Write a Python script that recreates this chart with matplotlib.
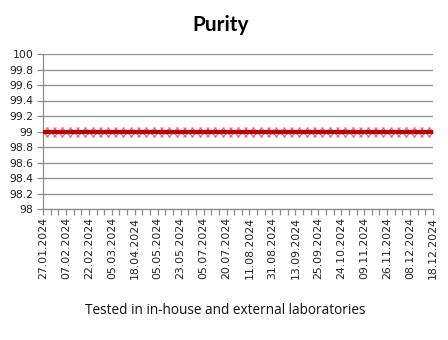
import matplotlib
matplotlib.use("Agg")
import matplotlib.pyplot as plt
import numpy as np

# Purity results per test (52 tests), one value per category
purity = [99.0] * 52
date_labels = ["27.01.2024", "07.02.2024", "22.02.2024", "05.03.2024", "18.04.2024",
               "05.05.2024", "23.05.2024", "05.07.2024", "20.07.2024", "11.08.2024",
               "31.08.2024", "13.09.2024", "25.09.2024", "24.10.2024", "09.11.2024",
               "26.11.2024", "08.12.2024", "18.12.2024"]
label_step = 3
y_ticks = [98, 98.2, 98.4, 98.6, 98.8, 99, 99.2, 99.4, 99.6, 99.8, 100]

fig = plt.figure(figsize=(4.48, 3.40), dpi=100)
ax = fig.add_axes([43 / 448, 1 - 209 / 340, 390 / 448, 155 / 340])

x = np.arange(len(purity))
ax.plot(x, purity, linestyle="none", marker="x", markersize=7,
        markeredgewidth=0.9, color="#d84c58", alpha=0.75, zorder=3)
ax.plot(x, purity, color="#c00000", linewidth=3.0, zorder=4,
        solid_capstyle="butt")

ax.set_xlim(0, len(purity) - 1)
ax.set_ylim(98, 100)
ax.set_yticks(y_ticks)
ax.set_yticklabels([f"{v:g}" for v in y_ticks])
ax.set_xticks(x)
ax.set_xticklabels([date_labels[i // label_step] if i % label_step == 0 else ""
                    for i in x], rotation=90)

ax.grid(axis="y", color="#8c8c8c", linewidth=0.9)
ax.set_axisbelow(True)
for side in ("top", "right"):
    ax.spines[side].set_visible(False)
for side in ("left", "bottom"):
    ax.spines[side].set_color("#8c8c8c")
    ax.spines[side].set_linewidth(0.9)
ax.tick_params(axis="both", colors="#8c8c8c", length=4, width=0.9,
               labelcolor="#222222", labelsize=7.8)
ax.tick_params(axis="x", pad=2)
ax.tick_params(axis="y", pad=3)
for lab in ax.get_xticklabels() + ax.get_yticklabels():
    lab.set_family("DejaVu Sans")

fig.text(0.492, 1 - 25 / 340, "Purity", ha="center", va="center",
         fontsize=15, fontweight="bold", family="Lato")
fig.text(0.502, 1 - 311 / 340, "Tested in in-house and external laboratories",
         ha="center", va="center", fontsize=9.8, family="Open Sans", color="#111111")

fig.savefig("out.png", dpi=100)
